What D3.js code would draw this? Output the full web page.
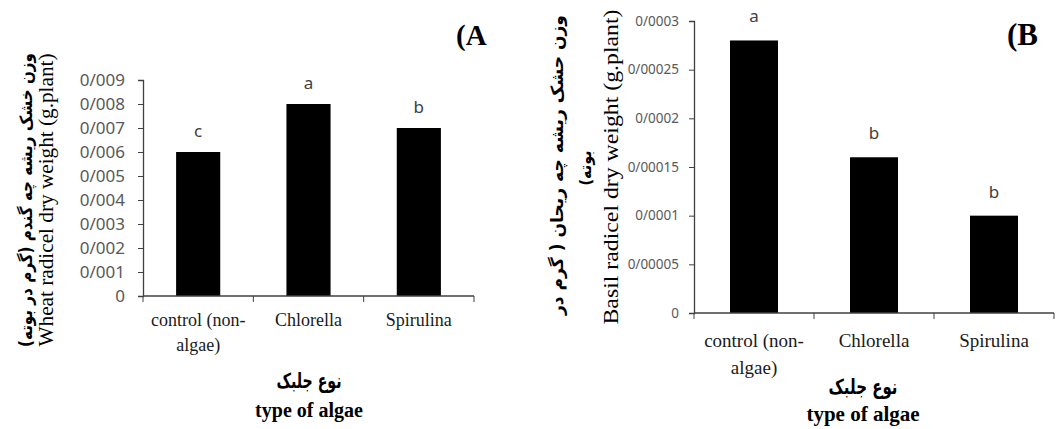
<!DOCTYPE html>
<html>
<head>
<meta charset="UTF-8">
<title>algae</title>
<script src="https://cdn.jsdelivr.net/npm/d3@7"></script>
<style>
  body { margin: 0; background: #fff; }
</style>
</head>
<body>
<svg width="1063" height="429"></svg>
<script>
// data
var categories = ["control (non-algae)", "Chlorella", "Spirulina"];
var catLines = [["control (non-", "algae)"], ["Chlorella"], ["Spirulina"]];
var wheatValues = [0.006, 0.008, 0.007];
var wheatLetters = ["c", "a", "b"];
var wheatTicks = [0, 0.001, 0.002, 0.003, 0.004, 0.005, 0.006, 0.007, 0.008, 0.009];
var basilValues = [0.00028, 0.00016, 0.0001];
var basilLetters = ["a", "b", "b"];
var basilTicks = [0, 0.00005, 0.0001, 0.00015, 0.0002, 0.00025, 0.0003];

var SERIF = "'Liberation Serif', 'Times New Roman', 'DejaVu Serif', serif";
var SANS = "'Noto Sans', 'Open Sans', sans-serif";
var ARAB = "'DejaVu Sans', sans-serif";

var svg = d3.select("svg");

function fmt(v) { return String(v).replace(".", "/"); }

// one panel
function panel(o) {
  var x = d3.scaleBand().domain(categories).range([o.x0, o.x1]);
  var y = d3.scaleLinear().domain([0, o.max]).range([o.y0, o.y1]);
  var g = svg.append("g");

  // bars
  g.selectAll("rect.bar").data(o.values).enter().append("rect")
    .attr("x", function(d, i) { return x(categories[i]) + x.bandwidth() * 0.3; })
    .attr("width", x.bandwidth() * 0.4)
    .attr("y", function(d) { return y(d); })
    .attr("height", function(d) { return y(0) - y(d); })
    .attr("fill", "#000");

  // y axis
  var ya = g.append("g").attr("transform", "translate(" + o.x0 + ",0)")
    .call(d3.axisLeft(y).tickValues(o.ticks).tickFormat(fmt).tickSize(5).tickPadding(o.pad));
  ya.attr("font-family", SANS).attr("font-size", o.tickSize);
  ya.select(".domain").attr("stroke", "#404040").attr("stroke-width", 1.3);
  ya.selectAll(".tick line").attr("stroke", "#404040");
  ya.selectAll(".tick text").attr("fill", "#595959");

  // x axis line + boundary ticks
  g.append("line").attr("x1", o.x0).attr("x2", o.x1).attr("y1", y(0)).attr("y2", y(0))
    .attr("stroke", "#404040").attr("stroke-width", 1.3);
  var bounds = categories.map(function(c) { return x(c); }).concat([o.x1]);
  g.selectAll("line.xt").data(bounds).enter().append("line")
    .attr("x1", function(d) { return d; }).attr("x2", function(d) { return d; })
    .attr("y1", y(0)).attr("y2", y(0) + 6).attr("stroke", "#404040");

  // letters
  g.selectAll("text.sig").data(o.letters).enter().append("text")
    .attr("font-family", SANS).attr("fill", "#404040").attr("font-size", o.sigSize)
    .attr("text-anchor", "middle")
    .attr("x", function(d, i) { return x(categories[i]) + x.bandwidth() / 2; })
    .attr("y", function(d, i) { return y(o.values[i]) - o.sigGap; })
    .text(function(d) { return d; });

  // category labels
  catLines.forEach(function(lines, i) {
    lines.forEach(function(t, j) {
      g.append("text").attr("font-family", SERIF).attr("fill", "#1a1a1a")
        .attr("font-size", o.catSize).attr("text-anchor", "middle")
        .attr("x", x(categories[i]) + x.bandwidth() / 2)
        .attr("y", o.catY + j * o.catLead)
        .text(t);
    });
  });

  // x titles
  g.append("text").attr("font-family", ARAB).attr("font-weight", "bold")
    .attr("font-size", 21).attr("text-anchor", "middle")
    .attr("direction", "rtl").attr("unicode-bidi", "embed")
    .attr("x", o.faX).attr("y", o.faY).text("نوع جلبک")
    .attr("textLength", o.faW).attr("lengthAdjust", "spacingAndGlyphs");
  g.append("text").attr("font-family", SERIF).attr("font-size", o.ttSize).attr("font-weight", "bold")
    .attr("text-anchor", "middle").attr("x", o.faX).attr("y", o.ttY).text("type of algae");

  // panel letter
  g.append("text").attr("font-family", SERIF).attr("font-size", o.pSize).attr("font-weight", "bold")
    .attr("x", o.pX).attr("y", o.pY).text(o.pText);

  // y titles
  o.yTitles.forEach(function(t) {
    var tx = g.append("text")
      .attr("font-family", t.fa ? ARAB : SERIF)
      .attr("font-weight", t.fa ? "bold" : "normal")
      .attr("font-size", t.size).attr("text-anchor", "middle")
      .attr("dominant-baseline", "central")
      .attr("transform", "translate(" + t.x + "," + t.y + ") rotate(-90)")
      .text(t.text);
    if (t.fa) tx.attr("direction", "rtl").attr("unicode-bidi", "embed");
    if (t.len) tx.attr("textLength", t.len).attr("lengthAdjust", "spacingAndGlyphs");
  });
}

panel({
  x0: 143, x1: 474, y0: 296, y1: 80, max: 0.009,
  values: wheatValues, letters: wheatLetters, ticks: wheatTicks,
  tickSize: 17, pad: 13, sigSize: 17, sigGap: 15,
  catSize: 18, catY: 326, catLead: 25,
  faX: 309, faY: 388, faW: 65, ttSize: 20, ttY: 417,
  pSize: 29, pX: 456, pY: 45, pText: "(A",
  yTitles: [
    { text: "وزن خشک ریشه چه گندم (گرم در بوته)", x: 26, y: 200, size: 17, fa: true, len: 294 },
    { text: "Wheat radicel dry weight (g.plant)", x: 46, y: 200, size: 20, len: 293 }
  ]
});

panel({
  x0: 694, x1: 1054, y0: 313, y1: 21, max: 0.0003,
  values: basilValues, letters: basilLetters, ticks: basilTicks,
  tickSize: 13.5, pad: 10, sigSize: 17, sigGap: 18,
  catSize: 19, catY: 347, catLead: 27,
  faX: 863, faY: 394, faW: 69, ttSize: 21, ttY: 421,
  pSize: 31, pX: 1007, pY: 45, pText: "(B",
  yTitles: [
    { text: "وزن حشک ریشه چه ریحان ( گرم در", x: 557, y: 165, size: 17, fa: true, len: 300 },
    { text: "بوته)", x: 585, y: 168, size: 16, fa: true, len: 35 },
    { text: "Basil radicel dry weight (g.plant)", x: 610, y: 167, size: 22, len: 315 }
  ]
});
</script>
</body>
</html>
